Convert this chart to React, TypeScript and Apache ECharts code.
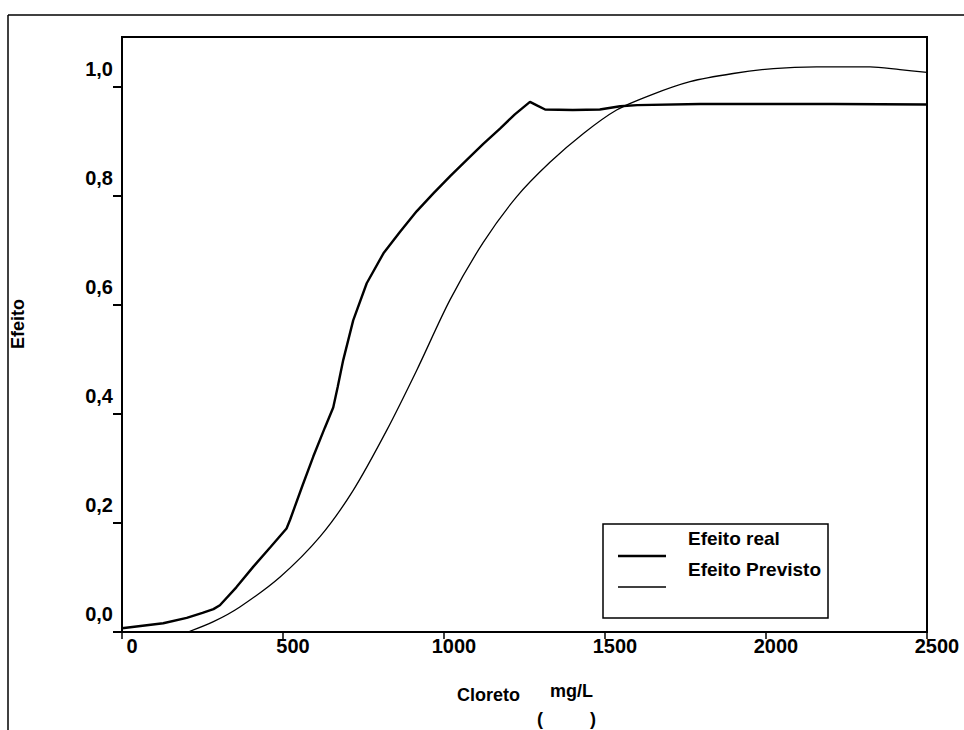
import React, { useEffect, useRef } from "react";
import * as echarts from "echarts";

const xTicks = [0, 500, 1000, 1500, 2000, 2500];
const yTicks = [0, 0.2, 0.4, 0.6, 0.8, 1.0];

// Efeito real (thick line): [Cloreto mg/L, Efeito]
const efeitoReal: [number, number][] = [
  [0, 0.007], [128, 0.016], [201, 0.026], [250, 0.035], [284, 0.042], [304, 0.049],
  [355, 0.082], [408, 0.12], [460, 0.155], [511, 0.19], [522, 0.206], [560, 0.268],
  [594, 0.322], [630, 0.375], [656, 0.412], [670, 0.45], [687, 0.499], [718, 0.572],
  [760, 0.64], [812, 0.695], [863, 0.734], [915, 0.772], [967, 0.805], [1020, 0.837],
  [1070, 0.866], [1122, 0.896], [1174, 0.924], [1220, 0.95], [1267, 0.973], [1290, 0.966],
  [1314, 0.959], [1400, 0.958], [1484, 0.959], [1547, 0.965], [1600, 0.967], [1795, 0.969],
  [2209, 0.969], [2500, 0.968],
];

// Efeito Previsto (thin line)
const efeitoPrevisto: [number, number][] = [
  [205, 0], [284, 0.019], [366, 0.046], [491, 0.101], [615, 0.175], [718, 0.26],
  [822, 0.37], [915, 0.48], [1019, 0.61], [1122, 0.715], [1226, 0.799], [1329, 0.862],
  [1433, 0.915], [1536, 0.958], [1640, 0.985], [1764, 1.01], [1898, 1.025], [2023, 1.034],
  [2157, 1.037], [2323, 1.037], [2416, 1.032], [2500, 1.027],
];

const legendLabels = ["Efeito real", "Efeito Previsto"];
const xTitle = "Cloreto";
const xUnit = "mg/L";
const yTitle = "Efeito";

const FONT = "'Liberation Sans', Arial, sans-serif";

export default function App() {
  const ref = useRef<HTMLDivElement>(null);
  useEffect(() => {
    if (!ref.current) return;
    const chart = echarts.init(ref.current, undefined, { renderer: "svg" });
    chart.setOption({
      animation: false,
      backgroundColor: "#fff",
      grid: {
        left: 122, right: 37, top: 37, bottom: 98,
        show: true, borderColor: "#000", borderWidth: 2, backgroundColor: "transparent",
      },
      xAxis: {
        type: "value", min: 0, max: 2500, interval: 500,
        axisLine: { show: true, onZero: false, lineStyle: { color: "#000", width: 2 } },
        axisTick: { show: true, length: 7, lineStyle: { color: "#000", width: 1.5 }, customValues: xTicks },
        splitLine: { show: false },
        axisLabel: {
          customValues: xTicks,
          color: "#000", fontFamily: FONT, fontSize: 20, fontWeight: "bold",
          margin: 4, align: "center", padding: [0, 0, 0, 20],
          formatter: (v: number) => String(v),
        },
      },
      yAxis: {
        type: "value", min: 0, max: 1.092,
        axisLine: { show: true, onZero: false, lineStyle: { color: "#000", width: 2 } },
        axisTick: { show: true, length: 9, lineStyle: { color: "#000", width: 2 }, customValues: yTicks },
        splitLine: { show: false },
        axisLabel: {
          customValues: yTicks,
          color: "#000", fontFamily: FONT, fontSize: 20, fontWeight: "bold",
          margin: 9, verticalAlign: "bottom", padding: [0, 0, 8, 0],
          formatter: (v: number) => v.toFixed(1).replace(".", ","),
        },
      },
      series: [
        {
          name: legendLabels[0], type: "line", data: efeitoReal, showSymbol: false,
          smooth: false, clip: true,
          lineStyle: { color: "#000", width: 2.4 },
        },
        {
          name: legendLabels[1], type: "line", data: efeitoPrevisto, showSymbol: false,
          smooth: 0.3, clip: true,
          lineStyle: { color: "#000", width: 1.3 },
        },
      ],
      graphic: [
        // outer frame
        { type: "line", shape: { x1: 8, y1: 15, x2: 964, y2: 15 }, style: { stroke: "#000", lineWidth: 1.5 } },
        { type: "line", shape: { x1: 8, y1: 15, x2: 8, y2: 730 }, style: { stroke: "#000", lineWidth: 1.5 } },
        // legend box
        { type: "rect", shape: { x: 603, y: 524, width: 225, height: 94 }, style: { fill: "#fff", stroke: "#000", lineWidth: 1.5 }, z: 10 },
        { type: "line", shape: { x1: 618, y1: 556, x2: 666, y2: 556 }, style: { stroke: "#000", lineWidth: 2.4 }, z: 11 },
        { type: "line", shape: { x1: 618, y1: 587, x2: 666, y2: 587 }, style: { stroke: "#000", lineWidth: 1.3 }, z: 11 },
        { type: "text", x: 688, y: 538, z: 11, style: { text: legendLabels[0], fill: "#000", font: `bold 19px ${FONT}`, verticalAlign: "middle" } },
        { type: "text", x: 688, y: 569, z: 11, style: { text: legendLabels[1], fill: "#000", font: `bold 19px ${FONT}`, verticalAlign: "middle" } },
        // axis titles
        { type: "text", x: 457, y: 695, style: { text: xTitle, fill: "#000", font: `bold 18px ${FONT}`, verticalAlign: "middle" } },
        { type: "text", x: 550, y: 691, style: { text: xUnit, fill: "#000", font: `bold 18px ${FONT}`, verticalAlign: "middle" } },
        { type: "text", x: 537, y: 719, style: { text: "(", fill: "#000", font: `bold 18px ${FONT}`, verticalAlign: "middle" } },
        { type: "text", x: 590, y: 719, style: { text: ")", fill: "#000", font: `bold 18px ${FONT}`, verticalAlign: "middle" } },
        { type: "text", x: 18, y: 324, rotation: Math.PI / 2, style: { text: yTitle, fill: "#000", font: `bold 18px ${FONT}`, align: "center", verticalAlign: "middle" } },
      ],
    });
    return () => chart.dispose();
  }, []);
  return <div ref={ref} style={{ position: "fixed", left: 0, top: 0, width: 964, height: 730 }} />;
}
